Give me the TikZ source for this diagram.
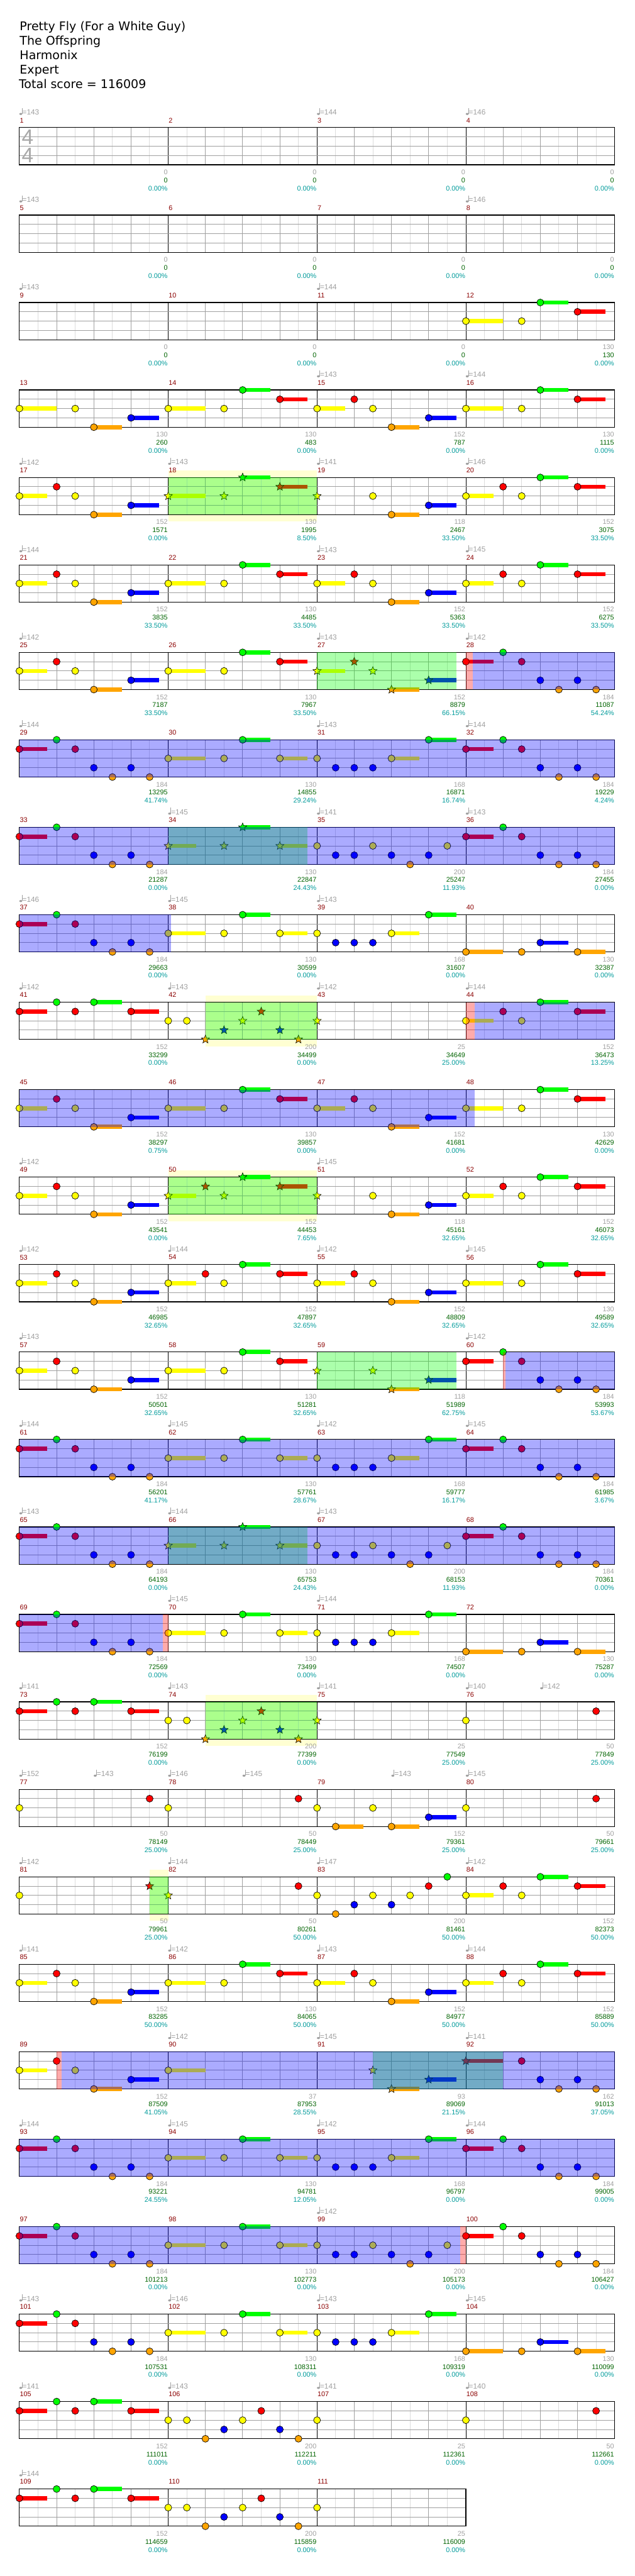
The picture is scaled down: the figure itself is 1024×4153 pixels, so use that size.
\documentclass[tikz,border=0pt]{standalone}
\usepackage{fontspec}
\setmainfont{Liberation Sans}
\newfontfamily\titlefont{DejaVu Sans}
\usetikzlibrary{shapes.geometric}
\definecolor{cG}{HTML}{00FF00}
\definecolor{cR}{HTML}{FF0000}
\definecolor{cY}{HTML}{FFFF00}
\definecolor{cB}{HTML}{0000FF}
\definecolor{cO}{HTML}{FFA500}
\definecolor{gridc}{HTML}{A0A0A0}
\definecolor{halfc}{HTML}{DCDCDC}
\definecolor{labc}{HTML}{A0A0A0}
\definecolor{numc}{HTML}{8B0000}
\definecolor{scorec}{HTML}{006400}
\definecolor{pctc}{HTML}{009B9B}
\definecolor{bandc}{HTML}{FFFFD2}
\definecolor{tsc}{HTML}{A8A8A8}
\def\lnG{0}\def\lnR{1}\def\lnY{2}\def\lnB{3}\def\lnO{4}
\tikzset{
  lbl/.style={inner sep=0pt,font=\fontsize{11}{11}\selectfont},
  lbltempo/.style={inner sep=0pt,font=\fontsize{12}{12}\selectfont},
  starnote/.style={star,star points=5,star point ratio=2.3,minimum size=14pt,inner sep=0pt,draw=black,line width=.6pt},
}
% measure geometry
\newcommand\setm[1]{%
  \pgfmathtruncatemacro\mrow{int((#1-1)/4)}%
  \pgfmathtruncatemacro\mcol{mod(#1-1,4)}%
  \pgfmathsetmacro\mxo{31.3+240*\mcol}%
  \pgfmathsetmacro\mT{205.7+141*\mrow}}
% staff row
\newcommand\staffrow[2]{%
  \pgfmathsetmacro\sT{205.7+141*#1}%
  \pgfmathsetmacro\sR{31.3+240*#2}%
  \foreach \ii in {1,...,#2}{%
    \pgfmathsetmacro\xo{31.3+240*(\ii-1)}%
    \foreach \hh in {30,90,150,210}{\draw[halfc,line width=1pt] (\xo+\hh,\sT) -- (\xo+\hh,\sT+60);}
    \foreach \hh in {60,120,180}{\draw[gridc,line width=1pt] (\xo+\hh,\sT) -- (\xo+\hh,\sT+60);}
    \draw[black,line width=1pt] (\xo,\sT) -- (\xo,\sT+60);}
  \foreach \vv in {15,30,45}{\draw[gridc,line width=1pt] (31.3,\sT+\vv) -- (\sR,\sT+\vv);}
  \draw[black,line width=1.2pt] (31.3,\sT) rectangle (\sR,\sT+60);}
% notes
\newcommand\notes[2]{\setm{#1}\edef\notelist{#2}%
  \foreach \nLane/\nBeat/\nSus/\nKind in \notelist {%
    \pgfmathsetmacro\nx{\mxo+60*\nBeat}%
    \pgfmathsetmacro\ny{\mT+15*\csname ln\nLane\endcsname}%
    \ifdim\nSus pt>0pt
      \fill[c\nLane] (\nx,\ny-3.4) rectangle ({\nx+60*\nSus},\ny+3.4);
    \fi
    \if\nKind s\relax
      \node[starnote,fill=c\nLane] at (\nx,\ny) {};
    \else
      \filldraw[fill=c\nLane,draw=black,line width=.7pt] (\nx,\ny) circle[radius=5.6pt];
    \fi}}
% overlays
\newcommand\ov[4]{\setm{#2}\fill[#1,opacity=.33] ({\mxo+60*#3},\mT) rectangle ({\mxo+60*#4},\mT+60);}
\newcommand\band[3]{\setm{#1}\fill[bandc] ({\mxo+60*#2},\mT-11) rectangle ({\mxo+60*#3},\mT+71);}
% labels
\newcommand\lab[4]{\setm{#1}\pgfmathsetmacro\xe{\mxo+239.2}%
  \node[lbl,text=labc,anchor=east] (g#1) at (\xe,\mT+72) {#2};
  \node[lbl,text=scorec,anchor=east] (s#1) at (\xe,\mT+85) {#3};
  \node[lbl,text=pctc,anchor=east] (p#1) at (\xe,\mT+98) {#4\%};}
\newcommand\tempo[3]{\setm{#1}\pgfmathsetmacro\tx{\mxo+60*#2}%
  \fill[labc] (\tx+2.2,\mT-22) ellipse[x radius=2.4pt,y radius=1.7pt];
  \draw[labc,line width=.8pt] (\tx+4.2,\mT-22.3) -- (\tx+4.2,\mT-31.5);
  \node[lbltempo,anchor=west,text=labc] (t#1x#2) at (\tx+4.6,\mT-24.6) {=#3};}
% patterns
\def\pA{Y/0/.75/c,R/1/0/c,Y/1.5/0/c,O/2/.75/c,B/3/.75/c}
\def\pAone{Y/0/1/c,Y/1.5/0/c,O/2/.75/c,B/3/.75/c}
\def\pBn{Y/0/1/c,Y/1.5/0/c,G/2/.75/c,R/3/.75/c}
\def\pBr{Y/0/.75/c,R/1/0/c,Y/1.5/0/c,G/2/.75/c,R/3/.75/c}
\def\pC{R/0/.75/c,G/1/0/c,R/1.5/0/c,B/2/0/c,O/2.5/0/c,B/3/0/c,O/3.5/0/c}
\def\pD{Y/0/1/c,Y/1.5/0/c,G/2/.75/c,Y/3/.75/c}
\def\pE{Y/0/0/c,B/.5/0/c,B/1/0/c,B/1.5/0/c,Y/2/.75/c,G/3/.75/c}
\def\pF{Y/0/0/c,B/.5/0/c,B/1/0/c,Y/1.5/0/c,B/2/0/c,O/2.5/0/c,B/3/0/c,Y/3.5/0/c}
\def\pH{O/0/1/c,O/1.5/0/c,B/2/.75/c,O/3/.75/c}
\def\pI{R/0/.75/c,G/1/0/c,R/1.5/0/c,G/2/.75/c,R/3/.75/c}
\def\pYR{Y/0/0/c,R/3.5/0/c}
\def\pRun{Y/0/0/c,Y/.5/0/c,O/1/0/c,B/1.5/0/c,Y/2/0/c,R/2.5/0/c,B/3/0/c,O/3.5/0/c}
\def\pRunS{Y/0/0/c,Y/.5/0/c,O/1/0/s,B/1.5/0/s,Y/2/0/s,R/2.5/0/s,B/3/0/s,O/3.5/0/s}
\begin{document}
\begin{tikzpicture}[x=1pt,y=-1pt]
\useasboundingbox (0,0) rectangle (1024,4153);
\fill[white] (0,0) rectangle (1024,4153);
% title
\begin{scope}[every node/.style={anchor=base west,inner sep=0pt,font=\titlefont\fontsize{19.3}{20}\selectfont}]
\node (title) at (31.7,49.3) {Pretty Fly (For a White Guy)};
\node (artist) at (31.7,72.6) {The Offspring};
\node (charter) at (31.7,95.9) {Harmonix};
\node (diff) at (31.7,119.2) {Expert};
\node (total) at (30.3,142.5) {Total score = 116009};
\end{scope}
% bands behind
\band{18}{0}{4}\band{42}{1}{4}\band{50}{0}{4}\band{74}{1}{4}\band{81}{3.5}{4}
% staves
\foreach \r in {0,...,26}{\staffrow{\r}{4}}
\staffrow{27}{3}
% time signature
\node[inner sep=0pt,text=tsc,font=\fontsize{34}{34}\selectfont] (ts1) at (44.5,220.5) {4};
\node[inner sep=0pt,text=tsc,font=\fontsize{34}{34}\selectfont] (ts2) at (44.5,250.8) {4};
% notes
\notes{12}{\pBn}
\notes{13}{\pAone}\notes{14}{\pBn}\notes{15}{\pA}\notes{16}{\pBn}
\notes{17}{\pA}\notes{18}{Y/0/1/s,Y/1.5/0/s,G/2/.75/s,R/3/.75/s}\notes{19}{Y/0/0/s,Y/1.5/0/c,O/2/.75/c,B/3/.75/c}\notes{20}{\pBr}
\notes{21}{\pA}\notes{22}{\pBn}\notes{23}{\pA}\notes{24}{\pBr}
\notes{25}{\pA}\notes{26}{\pBn}\notes{27}{Y/0/.75/s,R/1/0/s,Y/1.5/0/s,O/2/.75/s,B/3/.75/s}\notes{28}{\pC}
\notes{29}{\pC}\notes{30}{\pD}\notes{31}{\pE}\notes{32}{\pC}
\notes{33}{\pC}\notes{34}{Y/0/.75/s,Y/1.5/0/s,G/2/.75/s,Y/3/.75/s}\notes{35}{\pF}\notes{36}{\pC}
\notes{37}{\pC}\notes{38}{\pD}\notes{39}{\pE}\notes{40}{\pH}
\notes{41}{\pI}\notes{42}{\pRunS}\notes{43}{Y/0/0/s}\notes{44}{\pBr}
\notes{45}{\pA}\notes{46}{\pBn}\notes{47}{\pA}\notes{48}{\pBn}
\notes{49}{\pA}\notes{50}{Y/0/.75/s,R/1/0/s,Y/1.5/0/s,G/2/.75/s,R/3/.75/s}\notes{51}{Y/0/0/s,Y/1.5/0/c,O/2/.75/c,B/3/.75/c}\notes{52}{\pBr}
\notes{53}{\pA}\notes{54}{\pBr}\notes{55}{\pA}\notes{56}{\pBn}
\notes{57}{\pA}\notes{58}{\pBn}\notes{59}{Y/0/0/s,Y/1.5/0/s,O/2/.75/s,B/3/.75/s}\notes{60}{\pC}
\notes{61}{\pC}\notes{62}{\pD}\notes{63}{\pE}\notes{64}{\pC}
\notes{65}{\pC}\notes{66}{Y/0/.75/s,Y/1.5/0/s,G/2/.75/s,Y/3/.75/s}\notes{67}{\pF}\notes{68}{\pC}
\notes{69}{\pC}\notes{70}{\pD}\notes{71}{\pE}\notes{72}{\pH}
\notes{73}{\pI}\notes{74}{\pRunS}\notes{75}{Y/0/0/s}\notes{76}{\pYR}
\notes{77}{\pYR}\notes{78}{\pYR}\notes{79}{Y/0/0/c,O/.5/.75/c,Y/1.5/0/c,O/2/.75/c,B/3/.75/c}\notes{80}{\pYR}
\notes{81}{Y/0/0/c,R/3.5/0/s}\notes{82}{Y/0/0/s,R/3.5/0/c}\notes{83}{Y/0/0/c,O/.5/0/c,B/1/0/c,Y/1.5/0/c,B/2/0/c,Y/2.5/0/c,R/3/0/c,G/3.5/0/c}\notes{84}{\pBr}
\notes{85}{\pA}\notes{86}{\pBn}\notes{87}{\pA}\notes{88}{\pBr}
\notes{89}{\pA}\notes{90}{Y/0/1/c}\notes{91}{Y/1.5/0/s,O/2/.75/s,B/3/.75/s}\notes{92}{R/0/1/s,R/1.5/0/c,B/2/0/c,O/2.5/0/c,B/3/0/c,O/3.5/0/c}
\notes{93}{\pC}\notes{94}{\pD}\notes{95}{\pE}\notes{96}{\pC}
\notes{97}{\pC}\notes{98}{\pD}\notes{99}{\pF}\notes{100}{\pC}
\notes{101}{\pC}\notes{102}{\pD}\notes{103}{\pE}\notes{104}{\pH}
\notes{105}{\pI}\notes{106}{\pRun}\notes{107}{Y/0/0/c}\notes{108}{\pYR}
\notes{109}{\pI}\notes{110}{\pRun}\notes{111}{Y/0/0/c}
% star power phrases (green)
\ov{cG}{18}{0}{4}\ov{cG}{27}{0}{3.75}\ov{cG}{34}{0}{3.75}\ov{cG}{42}{1}{4}
\ov{cG}{50}{0}{4}\ov{cG}{59}{0}{3.75}\ov{cG}{66}{0}{3.75}\ov{cG}{74}{1}{4}
\ov{cG}{81}{3.5}{4}\ov{cG}{91}{1.5}{5}
% activations (blue)
\ov{cB}{28}{0.19}{4}\ov{cB}{29}{0}{16}\ov{cB}{33}{0}{16}\ov{cB}{37}{0}{4.07}
\ov{cB}{44}{0.23}{4}\ov{cB}{45}{0}{12.23}\ov{cB}{60}{1.07}{4}\ov{cB}{61}{0}{16}
\ov{cB}{65}{0}{16}\ov{cB}{69}{0}{3.86}\ov{cB}{89}{1.13}{16}\ov{cB}{93}{0}{16}
\ov{cB}{97}{0}{11.84}
% activation starts (pink)
\ov{cR}{28}{0}{0.19}\ov{cR}{44}{0}{0.23}\ov{cR}{60}{1}{1.07}\ov{cR}{69}{3.86}{4}
\ov{cR}{89}{1}{1.13}\ov{cR}{99}{3.84}{4}
% measure numbers
\foreach \m in {1,...,111}{\setm{\m}\node[lbl,text=numc,anchor=west] (mn\m) at (\mxo+0.6,\mT-11.6) {\m};}
% tempos
\tempo{1}{0}{143}\tempo{3}{0}{144}\tempo{4}{0}{146}
\tempo{5}{0}{143}\tempo{8}{0}{146}
\tempo{9}{0}{143}\tempo{11}{0}{144}
\tempo{15}{0}{143}\tempo{16}{0}{144}
\tempo{17}{0}{142}\tempo{18}{0}{143}\tempo{19}{0}{141}\tempo{20}{0}{146}
\tempo{21}{0}{144}\tempo{23}{0}{143}\tempo{24}{0}{145}
\tempo{25}{0}{142}\tempo{27}{0}{143}\tempo{28}{0}{142}
\tempo{29}{0}{144}\tempo{31}{0}{143}\tempo{32}{0}{144}
\tempo{34}{0}{145}\tempo{35}{0}{141}\tempo{36}{0}{143}
\tempo{37}{0}{146}\tempo{38}{0}{145}\tempo{39}{0}{143}
\tempo{41}{0}{142}\tempo{42}{0}{143}\tempo{43}{0}{142}\tempo{44}{0}{144}
\tempo{49}{0}{142}\tempo{51}{0}{145}
\tempo{53}{0}{142}\tempo{54}{0}{144}\tempo{55}{0}{142}\tempo{56}{0}{145}
\tempo{57}{0}{143}\tempo{60}{0}{142}
\tempo{61}{0}{144}\tempo{62}{0}{145}\tempo{63}{0}{142}\tempo{64}{0}{145}
\tempo{65}{0}{143}\tempo{66}{0}{144}\tempo{67}{0}{143}
\tempo{70}{0}{145}\tempo{71}{0}{144}
\tempo{73}{0}{141}\tempo{74}{0}{143}\tempo{75}{0}{141}\tempo{76}{0}{140}\tempo{76}{2}{142}
\tempo{77}{0}{152}\tempo{77}{2}{143}\tempo{78}{0}{146}\tempo{78}{2}{145}\tempo{79}{2}{143}\tempo{80}{0}{145}
\tempo{81}{0}{142}\tempo{82}{0}{144}\tempo{83}{0}{147}\tempo{84}{0}{142}
\tempo{85}{0}{141}\tempo{86}{0}{142}\tempo{87}{0}{143}\tempo{88}{0}{144}
\tempo{90}{0}{142}\tempo{91}{0}{145}\tempo{92}{0}{141}
\tempo{93}{0}{144}\tempo{94}{0}{145}\tempo{95}{0}{142}\tempo{96}{0}{144}
\tempo{99}{0}{142}
\tempo{101}{0}{143}\tempo{102}{0}{146}\tempo{103}{0}{143}\tempo{104}{0}{145}
\tempo{105}{0}{141}\tempo{106}{0}{143}\tempo{107}{0}{141}\tempo{108}{0}{140}
\tempo{109}{0}{144}
% bottom labels
\foreach \m in {1,...,11}{\lab{\m}{0}{0}{0.00}}
\lab{12}{130}{130}{0.00}
\lab{13}{130}{260}{0.00}\lab{14}{130}{483}{0.00}\lab{15}{152}{787}{0.00}\lab{16}{130}{1115}{0.00}
\lab{17}{152}{1571}{0.00}\lab{18}{130}{1995}{8.50}\lab{19}{118}{2467}{33.50}\lab{20}{152}{3075}{33.50}
\lab{21}{152}{3835}{33.50}\lab{22}{130}{4485}{33.50}\lab{23}{152}{5363}{33.50}\lab{24}{152}{6275}{33.50}
\lab{25}{152}{7187}{33.50}\lab{26}{130}{7967}{33.50}\lab{27}{152}{8879}{66.15}\lab{28}{184}{11087}{54.24}
\lab{29}{184}{13295}{41.74}\lab{30}{130}{14855}{29.24}\lab{31}{168}{16871}{16.74}\lab{32}{184}{19229}{4.24}
\lab{33}{184}{21287}{0.00}\lab{34}{130}{22847}{24.43}\lab{35}{200}{25247}{11.93}\lab{36}{184}{27455}{0.00}
\lab{37}{184}{29663}{0.00}\lab{38}{130}{30599}{0.00}\lab{39}{168}{31607}{0.00}\lab{40}{130}{32387}{0.00}
\lab{41}{152}{33299}{0.00}\lab{42}{200}{34499}{0.00}\lab{43}{25}{34649}{25.00}\lab{44}{152}{36473}{13.25}
\lab{45}{152}{38297}{0.75}\lab{46}{130}{39857}{0.00}\lab{47}{152}{41681}{0.00}\lab{48}{130}{42629}{0.00}
\lab{49}{152}{43541}{0.00}\lab{50}{152}{44453}{7.65}\lab{51}{118}{45161}{32.65}\lab{52}{152}{46073}{32.65}
\lab{53}{152}{46985}{32.65}\lab{54}{152}{47897}{32.65}\lab{55}{152}{48809}{32.65}\lab{56}{130}{49589}{32.65}
\lab{57}{152}{50501}{32.65}\lab{58}{130}{51281}{32.65}\lab{59}{118}{51989}{62.75}\lab{60}{184}{53993}{53.67}
\lab{61}{184}{56201}{41.17}\lab{62}{130}{57761}{28.67}\lab{63}{168}{59777}{16.17}\lab{64}{184}{61985}{3.67}
\lab{65}{184}{64193}{0.00}\lab{66}{130}{65753}{24.43}\lab{67}{200}{68153}{11.93}\lab{68}{184}{70361}{0.00}
\lab{69}{184}{72569}{0.00}\lab{70}{130}{73499}{0.00}\lab{71}{168}{74507}{0.00}\lab{72}{130}{75287}{0.00}
\lab{73}{152}{76199}{0.00}\lab{74}{200}{77399}{0.00}\lab{75}{25}{77549}{25.00}\lab{76}{50}{77849}{25.00}
\lab{77}{50}{78149}{25.00}\lab{78}{50}{78449}{25.00}\lab{79}{152}{79361}{25.00}\lab{80}{50}{79661}{25.00}
\lab{81}{50}{79961}{25.00}\lab{82}{50}{80261}{50.00}\lab{83}{200}{81461}{50.00}\lab{84}{152}{82373}{50.00}
\lab{85}{152}{83285}{50.00}\lab{86}{130}{84065}{50.00}\lab{87}{152}{84977}{50.00}\lab{88}{152}{85889}{50.00}
\lab{89}{152}{87509}{41.05}\lab{90}{37}{87953}{28.55}\lab{91}{93}{89069}{21.15}\lab{92}{162}{91013}{37.05}
\lab{93}{184}{93221}{24.55}\lab{94}{130}{94781}{12.05}\lab{95}{168}{96797}{0.00}\lab{96}{184}{99005}{0.00}
\lab{97}{184}{101213}{0.00}\lab{98}{130}{102773}{0.00}\lab{99}{200}{105173}{0.00}\lab{100}{184}{106427}{0.00}
\lab{101}{184}{107531}{0.00}\lab{102}{130}{108311}{0.00}\lab{103}{168}{109319}{0.00}\lab{104}{130}{110099}{0.00}
\lab{105}{152}{111011}{0.00}\lab{106}{200}{112211}{0.00}\lab{107}{25}{112361}{0.00}\lab{108}{50}{112661}{0.00}
\lab{109}{152}{114659}{0.00}\lab{110}{200}{115859}{0.00}\lab{111}{25}{116009}{0.00}
\end{tikzpicture}
\end{document}
